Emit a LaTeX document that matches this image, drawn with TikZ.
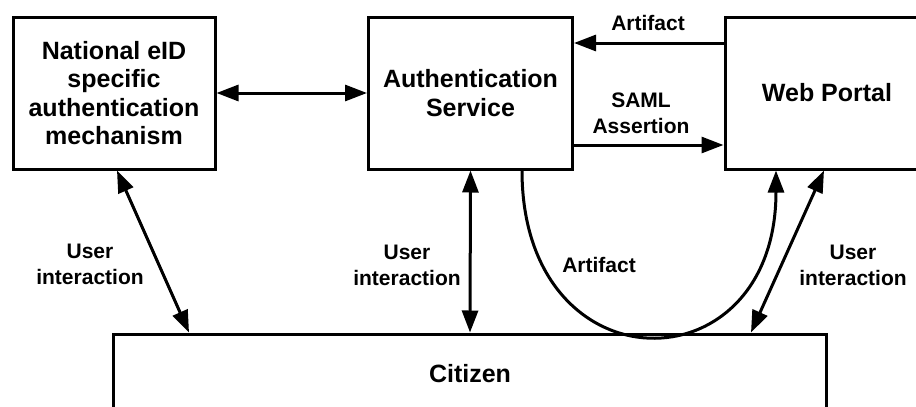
\documentclass[tikz,border=0pt]{standalone}
\usepackage{fontspec}
\setmainfont{Liberation Sans}
\usetikzlibrary{arrows.meta}
\begin{document}
\begin{tikzpicture}[x=1pt,y=-1pt,
  box/.style={draw,line width=3pt,inner sep=0pt,align=center,
    font=\fontsize{25}{28.5}\selectfont\bfseries},
  lbl/.style={align=center,inner sep=0pt,
    font=\fontsize{21}{26}\selectfont\bfseries},
  conn/.style={line width=3pt,arrows={-Triangle[length=22pt,width=16pt]}},
  both/.style={line width=3pt,arrows={Triangle[length=22pt,width=16pt]-Triangle[length=22pt,width=16pt]}}]
\useasboundingbox (0,0) rectangle (916,407);
\clip (0,0) rectangle (916,407);

% boxes
\node[box,minimum width=202pt,minimum height=152pt] (nat) at (114,93)
  {National eID\\specific\\authentication\\mechanism};
\node[box,minimum width=204pt,minimum height=152pt] (auth) at (470.5,93)
  {Authentication\\Service};
\node[box,minimum width=204pt,minimum height=152pt] (web) at (827,93)
  {Web Portal};
\node[box,minimum width=713pt,minimum height=80pt] (cit) at (470,374)
  {Citizen};

% connectors between the upper boxes
\draw[both] (nat.east) -- (auth.west);
\draw[conn] ([yshift=50pt]web.west) -- ([yshift=50pt]auth.east);
\draw[conn] ([yshift=-52pt]auth.east) -- ([yshift=-52pt]web.west);
\node[lbl] (lart) at (648,23) {Artifact};
\node[lbl] (lsaml) at (641,113) {SAML\\Assertion};

% connectors down to the citizen
\draw[both] ([xshift=3pt]nat.south) -- ([xshift=-281pt]cit.north);
\draw[both] (auth.south) -- (cit.north);
\draw[conn] ([xshift=51.5pt]auth.south) .. controls +(0,220) and +(0,220) .. ([xshift=-51pt]web.south);
\draw[both] ([xshift=-3pt]web.south) -- ([xshift=281pt]cit.north);

% labels
\node[lbl] (lui1) at (90,264) {User\\interaction};
\node[lbl] (lui2) at (407,265) {User\\interaction};
\node[lbl] (lcurve) at (599,265) {Artifact};
\node[lbl] (lui3) at (853,265) {User\\interaction};
\end{tikzpicture}
\end{document}
